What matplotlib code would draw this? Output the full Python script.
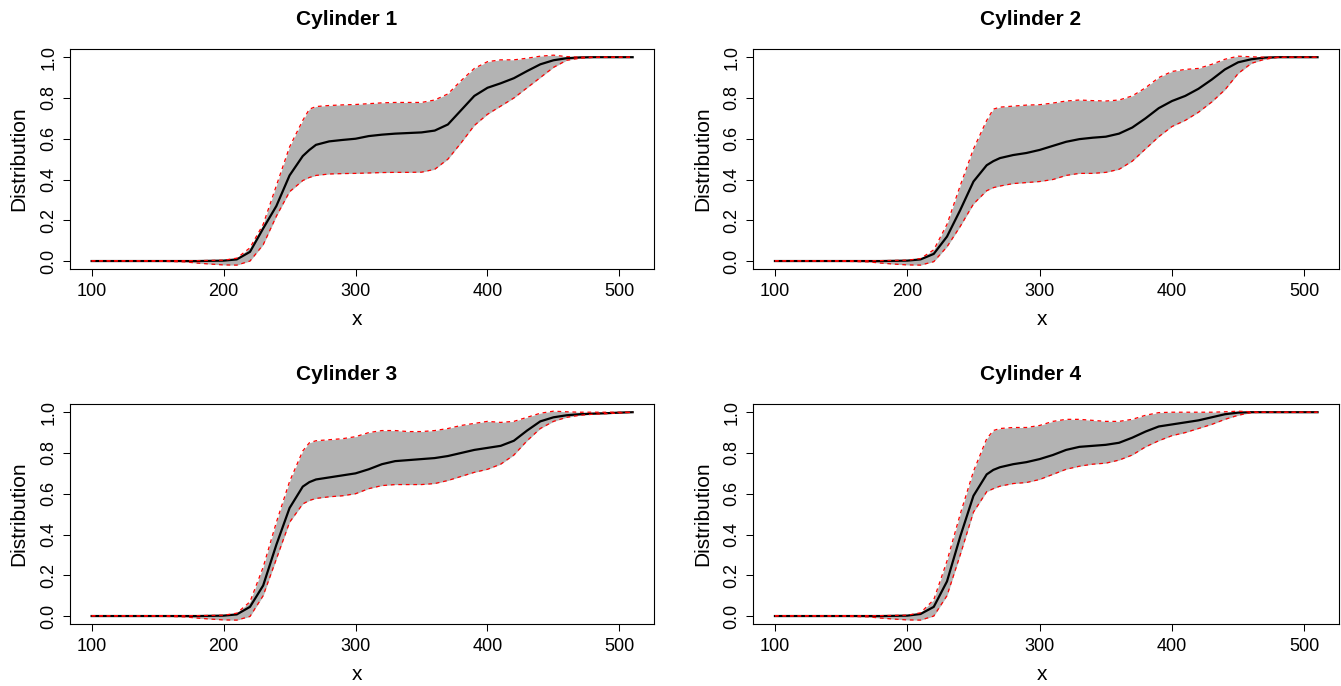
import numpy as np
import matplotlib
matplotlib.use("Agg")
import matplotlib.pyplot as plt

plt.rcParams["font.family"] = ["Liberation Sans", "DejaVu Sans"]

X = [100, 150, 170, 180, 190, 200, 210, 220, 230, 240, 250, 260, 265, 270,
     280, 290, 300, 310, 320, 330, 340, 350, 360, 370, 380, 390, 400, 410,
     420, 430, 440, 450, 460, 470, 480, 490, 500, 510]

TITLES = ["Cylinder 1", "Cylinder 2", "Cylinder 3", "Cylinder 4"]

# cylinder 1
mean_1 = [0, 0, 0, 0, 0.001, 0.002, 0.008, 0.045, 0.16, 0.27, 0.42, 0.515, 0.545, 0.57,
          0.587, 0.594, 0.60, 0.613, 0.62, 0.625, 0.628, 0.631, 0.64, 0.67, 0.74, 0.81,
          0.85, 0.872, 0.897, 0.932, 0.965, 0.985, 0.995, 0.999, 1, 1, 1, 1]
upper_1 = [0.002, 0.002, 0.002, 0.002, 0.003, 0.004, 0.014, 0.065, 0.18, 0.37, 0.56, 0.69,
           0.745, 0.758, 0.763, 0.766, 0.768, 0.772, 0.776, 0.778, 0.778, 0.778, 0.79, 0.82,
           0.885, 0.945, 0.978, 0.987, 0.987, 0.995, 1.005, 1.01, 1.003, 1, 1, 1, 1, 1]
lower_1 = [0, -0.001, -0.004, -0.01, -0.015, -0.019, -0.02, 0.0, 0.08, 0.22, 0.34, 0.395,
           0.41, 0.42, 0.427, 0.429, 0.43, 0.432, 0.434, 0.435, 0.435, 0.436, 0.45, 0.50,
           0.58, 0.665, 0.72, 0.76, 0.80, 0.85, 0.90, 0.95, 0.985, 0.995, 0.999, 1, 1, 1]

# cylinder 2
mean_2 = [0, 0, 0, 0, 0.001, 0.002, 0.008, 0.035, 0.12, 0.25, 0.39, 0.47, 0.49, 0.505,
          0.52, 0.53, 0.545, 0.565, 0.585, 0.598, 0.605, 0.61, 0.625, 0.655, 0.70, 0.75,
          0.785, 0.81, 0.845, 0.89, 0.94, 0.975, 0.99, 0.998, 1, 1, 1, 1]
upper_2 = [0.002, 0.002, 0.002, 0.002, 0.003, 0.004, 0.012, 0.055, 0.18, 0.37, 0.55, 0.69,
           0.745, 0.755, 0.76, 0.765, 0.767, 0.775, 0.785, 0.79, 0.787, 0.785, 0.79, 0.81,
           0.85, 0.90, 0.93, 0.94, 0.945, 0.965, 0.99, 1.005, 1.002, 1, 1, 1, 1, 1]
lower_2 = [0, -0.001, -0.004, -0.01, -0.015, -0.019, -0.02, -0.003, 0.07, 0.17, 0.28, 0.345,
           0.36, 0.368, 0.38, 0.385, 0.39, 0.40, 0.42, 0.43, 0.43, 0.435, 0.45, 0.49,
           0.55, 0.61, 0.66, 0.69, 0.73, 0.78, 0.84, 0.92, 0.97, 0.99, 0.999, 1, 1, 1]

# cylinder 3
mean_3 = [0, 0, 0, 0, 0.001, 0.002, 0.008, 0.045, 0.15, 0.35, 0.53, 0.635, 0.657, 0.67,
          0.68, 0.69, 0.70, 0.72, 0.745, 0.76, 0.765, 0.77, 0.775, 0.785, 0.80, 0.815,
          0.825, 0.835, 0.86, 0.91, 0.955, 0.975, 0.985, 0.99, 0.993, 0.995, 0.998, 1.0]
upper_3 = [0.002, 0.002, 0.002, 0.002, 0.003, 0.004, 0.014, 0.07, 0.24, 0.46, 0.66, 0.81,
           0.85, 0.86, 0.865, 0.87, 0.88, 0.90, 0.91, 0.91, 0.905, 0.905, 0.91, 0.92,
           0.935, 0.945, 0.955, 0.95, 0.955, 0.975, 0.995, 1.005, 1.002, 1, 1, 1, 1, 1]
lower_3 = [0, -0.001, -0.004, -0.01, -0.015, -0.019, -0.02, -0.002, 0.10, 0.28, 0.46, 0.55,
           0.567, 0.577, 0.585, 0.59, 0.60, 0.625, 0.64, 0.645, 0.645, 0.645, 0.65, 0.665,
           0.685, 0.705, 0.72, 0.745, 0.79, 0.86, 0.92, 0.955, 0.975, 0.985, 0.99, 0.993,
           0.996, 1.0]

# cylinder 4
mean_4 = [0, 0, 0, 0, 0.001, 0.002, 0.01, 0.045, 0.17, 0.39, 0.59, 0.695, 0.717, 0.73,
          0.745, 0.755, 0.77, 0.79, 0.815, 0.83, 0.835, 0.84, 0.85, 0.875, 0.905, 0.93,
          0.94, 0.95, 0.96, 0.975, 0.99, 0.998, 1, 1, 1, 1, 1, 1]
upper_4 = [0.002, 0.002, 0.002, 0.002, 0.003, 0.004, 0.016, 0.08, 0.27, 0.50, 0.71, 0.87,
           0.91, 0.92, 0.925, 0.925, 0.935, 0.955, 0.965, 0.965, 0.96, 0.955, 0.955, 0.965,
           0.985, 0.998, 1.0, 1.0, 1.0, 1.0, 1.002, 1.005, 1.002, 1, 1, 1, 1, 1]
lower_4 = [0, -0.001, -0.004, -0.01, -0.015, -0.019, -0.02, 0.0, 0.10, 0.30, 0.51, 0.61,
           0.625, 0.637, 0.65, 0.655, 0.67, 0.695, 0.72, 0.735, 0.745, 0.75, 0.765, 0.79,
           0.83, 0.86, 0.885, 0.90, 0.92, 0.94, 0.965, 0.985, 0.998, 1, 1, 1, 1, 1]

MEANS = [mean_1, mean_2, mean_3, mean_4]
UPPERS = [upper_1, upper_2, upper_3, upper_4]
LOWERS = [lower_1, lower_2, lower_3, lower_4]

fig = plt.figure(figsize=(13.41, 6.86), dpi=100)

# axes boxes in figure fractions: left, bottom, width, height
boxes = [
    [0.0522, 0.6079, 0.4357, 0.3203],
    [0.5617, 0.6079, 0.4370, 0.3203],
    [0.0522, 0.0904, 0.4357, 0.3203],
    [0.5617, 0.0904, 0.4370, 0.3203],
]

for i in range(4):
    ax = fig.add_axes(boxes[i])
    ax.fill_between(X, LOWERS[i], UPPERS[i], color="#b3b3b3", lw=0)
    ax.plot(X, MEANS[i], color="black", lw=1.6)
    ax.plot(X, UPPERS[i], color="red", lw=0.9, ls=(0, (3, 3)))
    ax.plot(X, LOWERS[i], color="red", lw=0.9, ls=(0, (3, 3)))

    ax.set_xlim(83.6, 526.4)
    ax.set_ylim(-0.039, 1.039)
    ax.set_xticks([100, 200, 300, 400, 500])
    ax.set_yticks([0.0, 0.2, 0.4, 0.6, 0.8, 1.0])
    ax.set_yticklabels(["0.0", "0.2", "0.4", "0.6", "0.8", "1.0"],
                       rotation=90, va="center")
    ax.tick_params(direction="out", length=5, width=0.75, labelsize=13)
    ax.tick_params(axis="x", pad=5)
    ax.tick_params(axis="y", pad=4)
    for sp in ax.spines.values():
        sp.set_linewidth(0.8)

    ax.set_xlabel("x", fontsize=15, va="center")
    ax.xaxis.set_label_coords(0.492, -0.232)
    ax.set_ylabel("Distribution", fontsize=15, va="center")
    ax.yaxis.set_label_coords(-0.087, 0.5)

    ax.text(0.474, 1.137, TITLES[i], transform=ax.transAxes, ha="center",
            va="center", fontsize=15, fontweight="bold")

plt.savefig("out.png", dpi=100)
